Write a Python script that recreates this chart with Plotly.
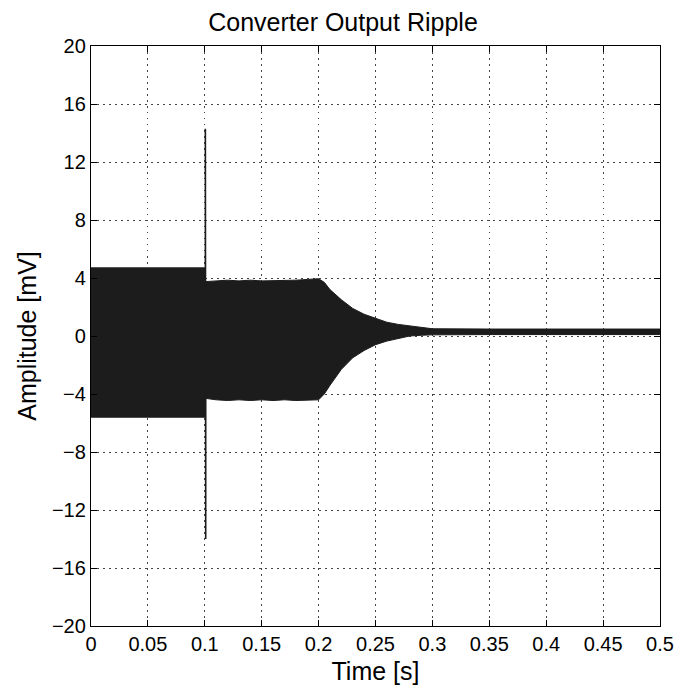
import plotly.graph_objects as go

# Envelope of the dense ripple signal (mV)
t_env = [0.0, 0.02, 0.04, 0.06, 0.08, 0.1005,
         0.1006, 0.11, 0.12, 0.13, 0.14, 0.15, 0.16, 0.17, 0.18, 0.19, 0.20,
         0.205, 0.21, 0.22, 0.23, 0.24, 0.25, 0.26, 0.27, 0.28, 0.29, 0.30,
         0.35, 0.40, 0.45, 0.50]
upper = [4.7, 4.7, 4.7, 4.7, 4.7, 4.7,
         3.75, 3.8, 3.85, 3.8, 3.85, 3.8, 3.8, 3.85, 3.85, 3.9, 3.95,
         3.7, 3.2, 2.5, 1.9, 1.5, 1.2, 0.95, 0.8, 0.7, 0.6, 0.5,
         0.48, 0.48, 0.48, 0.48]
lower = [-5.6, -5.6, -5.6, -5.6, -5.6, -5.6,
         -4.3, -4.4, -4.45, -4.4, -4.45, -4.4, -4.45, -4.4, -4.45, -4.45, -4.4,
         -4.0, -3.4, -2.3, -1.5, -1.0, -0.6, -0.35, -0.15, 0.0, 0.05, 0.08,
         0.1, 0.1, 0.1, 0.1]

# Transient spike at the load step
t_spike = [0.1005, 0.1005, 0.1008, 0.1008]
y_spike = [4.7, 14.3, -14.0, -4.3]

x_ticks = [0, 0.05, 0.1, 0.15, 0.2, 0.25, 0.3, 0.35, 0.4, 0.45, 0.5]
x_ticklabels = ["0", "0.05", "0.1", "0.15", "0.2", "0.25", "0.3", "0.35", "0.4", "0.45", "0.5"]
y_ticks = [-20, -16, -12, -8, -4, 0, 4, 8, 12, 16, 20]

ink = "#1c1c1c"

fig = go.Figure()
fig.add_trace(go.Scatter(x=t_env, y=upper, mode="lines", line=dict(color=ink, width=1),
                         showlegend=False, hoverinfo="skip"))
fig.add_trace(go.Scatter(x=t_env, y=lower, mode="lines", line=dict(color=ink, width=1),
                         fill="tonexty", fillcolor=ink, showlegend=False, hoverinfo="skip"))
fig.add_trace(go.Scatter(x=t_spike, y=y_spike, mode="lines", line=dict(color=ink, width=1.6),
                         showlegend=False, hoverinfo="skip"))

font_family = "Liberation Sans, Arial, Helvetica, sans-serif"

fig.update_layout(
    width=686, height=694,
    margin=dict(l=91, r=17, t=46, b=68),
    paper_bgcolor="white", plot_bgcolor="white",
    font=dict(family=font_family, color="black"),
    title=dict(text="Converter Output Ripple", x=0.5, xanchor="center",
               y=1 - 22 / 694, yanchor="middle", font=dict(size=25, family=font_family)),
    xaxis=dict(
        range=[0, 0.5], tickvals=x_ticks, ticktext=x_ticklabels,
        ticks="inside", ticklen=6, tickcolor="black", mirror="ticks",
        showline=True, linecolor="black", linewidth=1.3,
        showgrid=True, gridcolor="#444444", griddash="1.5px,4.5px", gridwidth=1.2,
        zeroline=False, tickfont=dict(size=20),
        title=dict(text="Time [s]", font=dict(size=25), standoff=8),
    ),
    yaxis=dict(
        range=[-20, 20], tickvals=y_ticks,
        ticks="inside", ticklen=6, tickcolor="black", mirror="ticks",
        showline=True, linecolor="black", linewidth=1.3,
        showgrid=True, gridcolor="#444444", griddash="1.5px,4.5px", gridwidth=1.2,
        zeroline=False, tickfont=dict(size=20),
        title=dict(text="Amplitude [mV]", font=dict(size=25), standoff=8),
    ),
)

fig.write_html("out.html")
